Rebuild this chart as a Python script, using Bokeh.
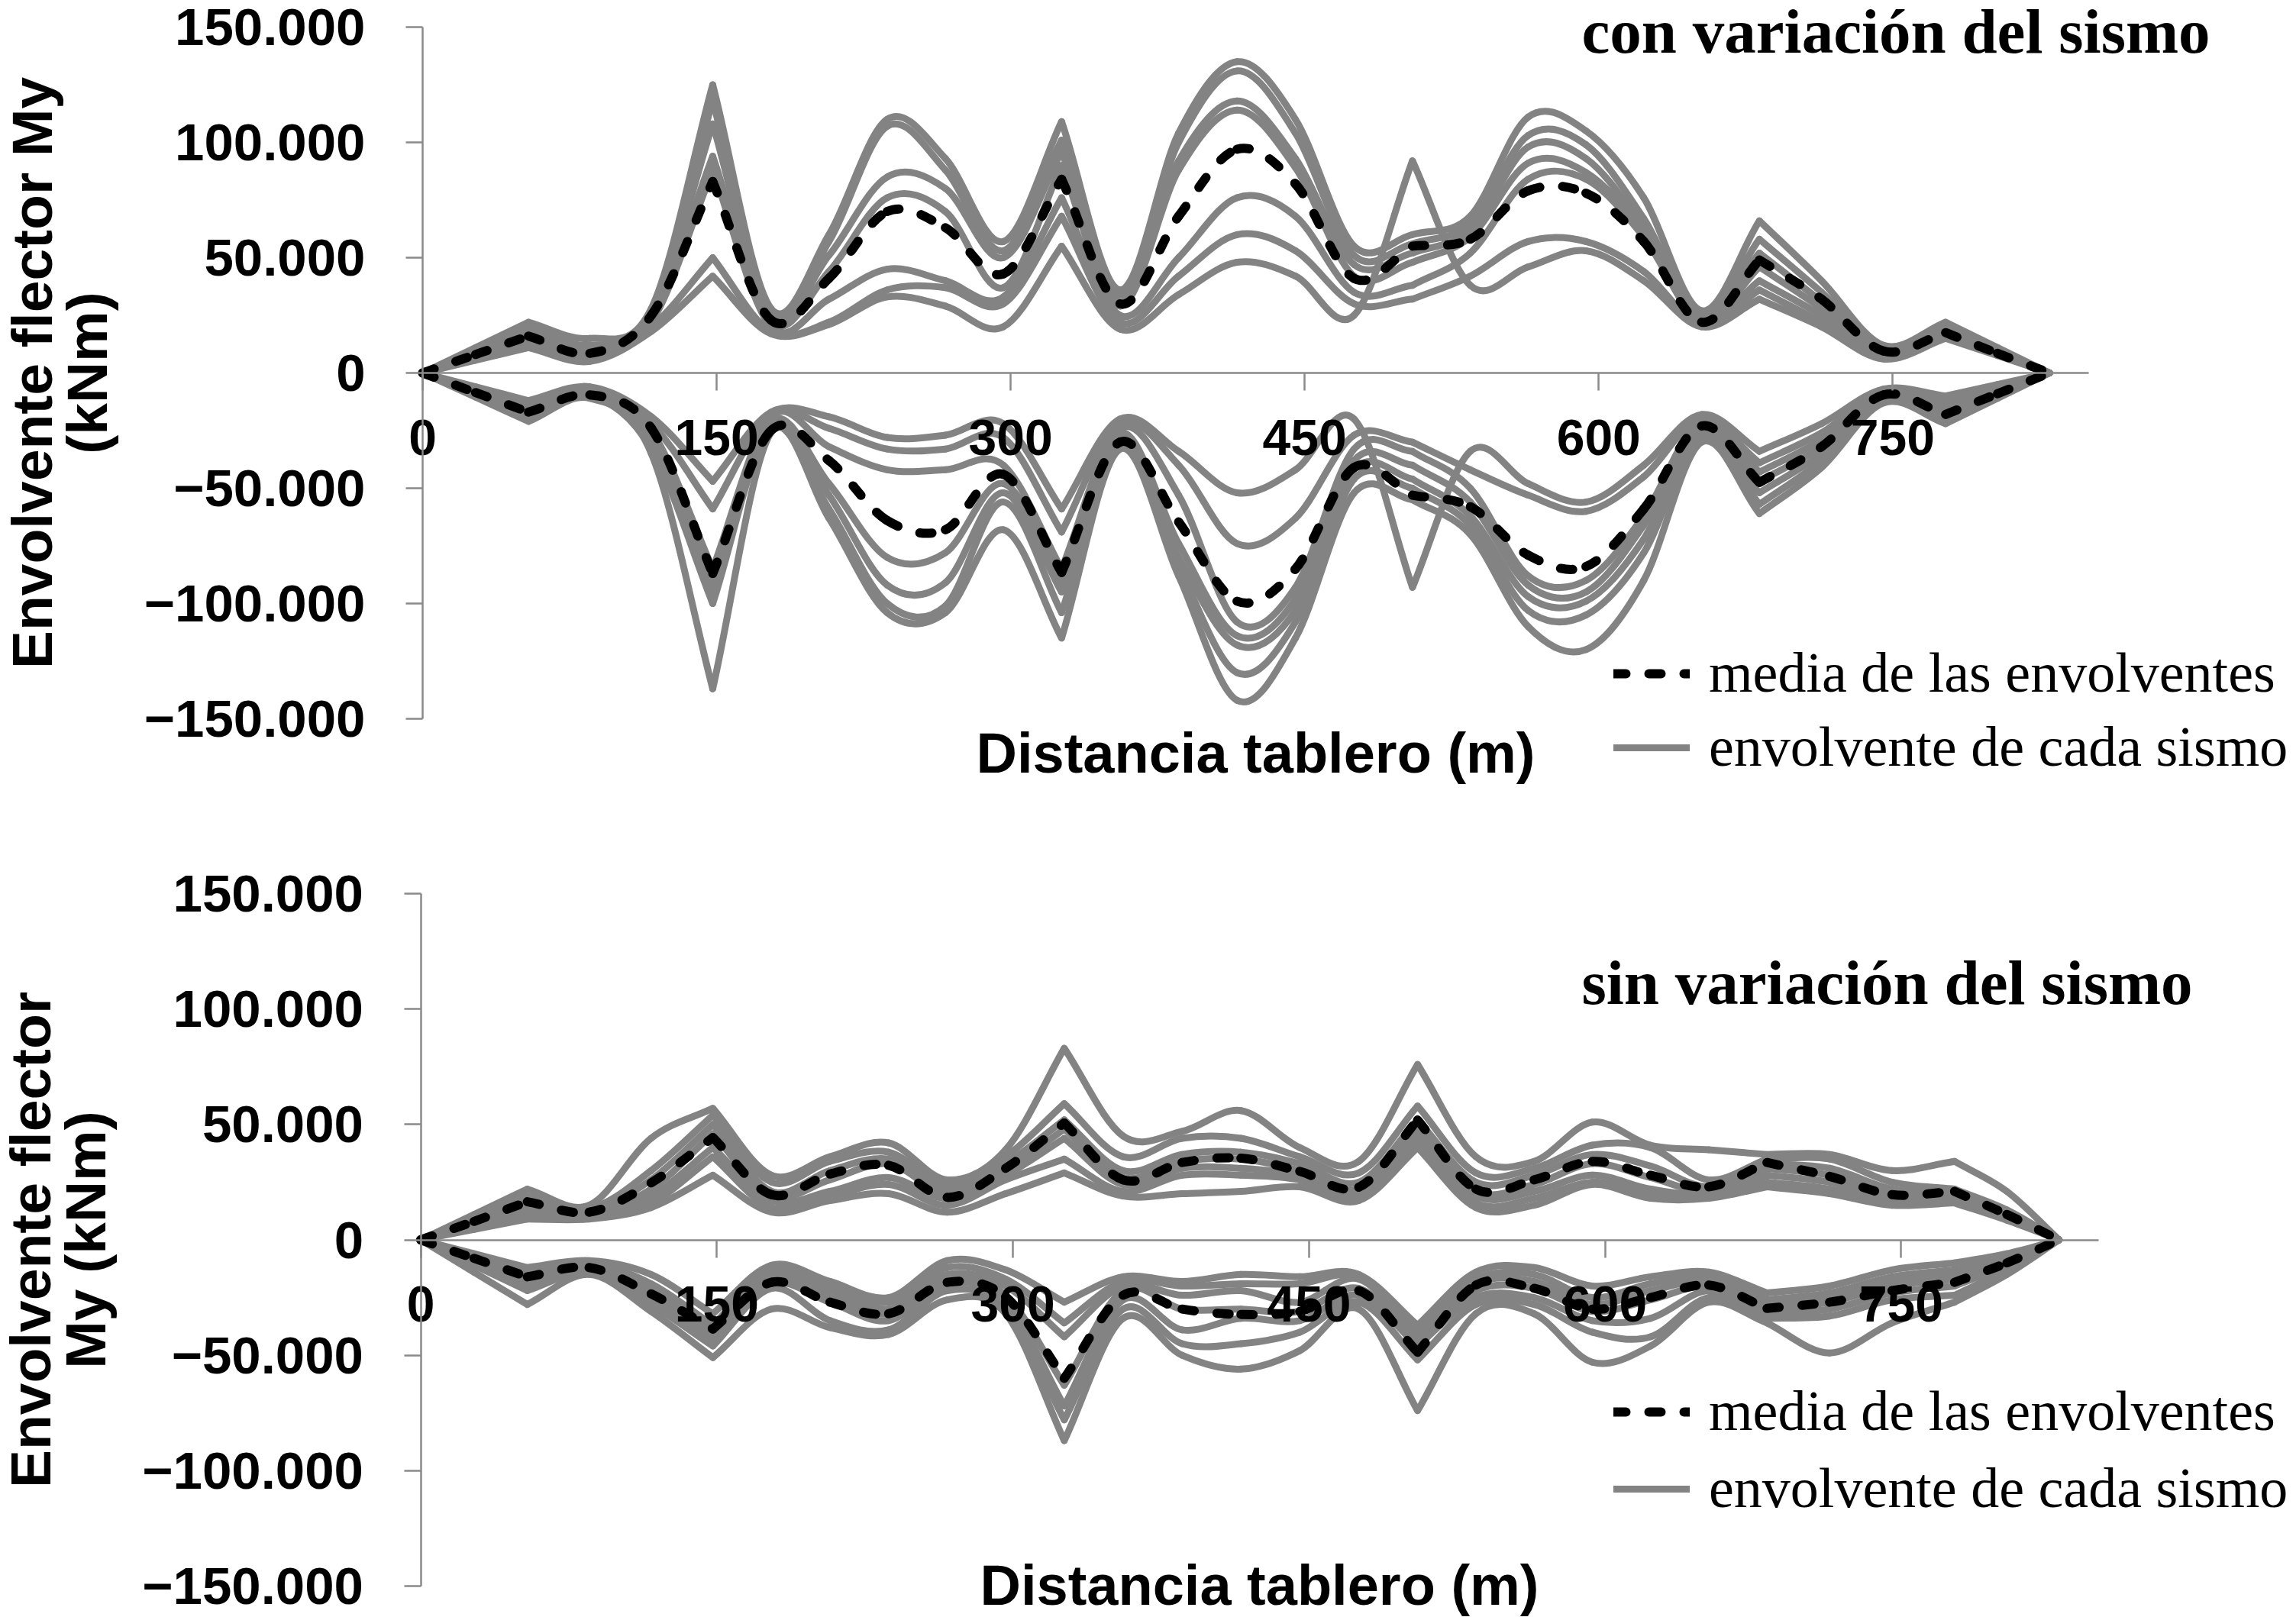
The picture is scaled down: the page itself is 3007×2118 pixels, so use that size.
from bokeh.plotting import figure
from bokeh.models import Range1d, FixedTicker, Label, Legend, LegendItem, ColumnDataSource
from bokeh.layouts import column
from bokeh.embed import file_html
from bokeh.resources import INLINE

# ---------------- data ----------------
# distance along the deck (m) of the read nodes, shared by every series
x_nodes = [0, 27, 54, 85.3, 116.7, 148, 177.7, 207.3, 237, 266.7, 296.3, 326, 355.8,
           385.7, 415.5, 445.3, 475.2, 505, 534.5, 564, 593.5, 623, 652.5, 682,
           713.7, 745.3, 777, 803.5, 830]
# supports (piers) where the envelopes have a corner
pier_x = [0, 54, 148, 326, 505, 682, 777, 830]

x_ticks = [0, 150, 300, 450, 600, 750]
y_ticks = [-150000, -100000, -50000, 0, 50000, 100000, 150000]
y_tick_labels = ["\u2212150.000", "\u2212100.000", "\u221250.000", "0", "50.000", "100.000", "150.000"]

# "con variación del sismo": one row per node, 7 earthquakes per row (kNm)
con_pos_rows = [
    [0, 0, 0, 0, 0, 0, 0],
    [11000, 10000, 9000, 8500, 7500, 6500, 5500],
    [22000, 20000, 18000, 17000, 15000, 13000, 11000],
    [15000, 12000, 10000, 8000, 7000, 6000, 5000],
    [28000, 26000, 25000, 24000, 22000, 20000, 18000],
    [125000, 118000, 108000, 94000, 88000, 50000, 42000],
    [28000, 26000, 24000, 22000, 20000, 18000, 17000],
    [60000, 57000, 51000, 44000, 32000, 22000, 21000],
    [110000, 107000, 85000, 76000, 45000, 36000, 33000],
    [93000, 88000, 80000, 70000, 40000, 37000, 29000],
    [57000, 53000, 50000, 37000, 33000, 30000, 20000],
    [109000, 101000, 96000, 90000, 76000, 68000, 55000],
    [36000, 34000, 31000, 29000, 25000, 22000, 19000],
    [104000, 100000, 92000, 88000, 50000, 42000, 34000],
    [135000, 131000, 118000, 114000, 76000, 60000, 48000],
    [110000, 104000, 93000, 89000, 68000, 53000, 42000],
    [55000, 51000, 47000, 42000, 35000, 30000, 25000],
    [60000, 56000, 52000, 48000, 38000, 32000, 92000],
    [68000, 65000, 62000, 59000, 52000, 42000, 38000],
    [111000, 103000, 98000, 91000, 84000, 57000, 46000],
    [105000, 99000, 93000, 87000, 84000, 57000, 53000],
    [76000, 67000, 63000, 61000, 59000, 44000, 40000],
    [27000, 25000, 24000, 23000, 22000, 21000, 20000],
    [66000, 58000, 52000, 46000, 40000, 36000, 32000],
    [40000, 35000, 31000, 28000, 25000, 22000, 20000],
    [12000, 11000, 10000, 9000, 8000, 7000, 6000],
    [22000, 20000, 19000, 18000, 17000, 16000, 15000],
    [11000, 10000, 9500, 9000, 8500, 8000, 7500],
    [0, 0, 0, 0, 0, 0, 0],
]
con_neg_rows = [
    [0, 0, 0, 0, 0, 0, 0],
    [-6000, -7000, -7500, -8000, -8500, -9500, -10500],
    [-12000, -14000, -15000, -16000, -17000, -19000, -21000],
    [-6000, -7000, -8000, -9000, -9500, -10000, -11000],
    [-19000, -22000, -25000, -28000, -31000, -33000, -35000],
    [-47000, -59000, -85000, -92000, -96000, -100000, -137000],
    [-17000, -18000, -19000, -21000, -22000, -24000, -26000],
    [-19000, -24000, -32000, -48000, -53000, -59000, -63000],
    [-28000, -33000, -42000, -80000, -92000, -100000, -104000],
    [-27000, -33000, -42000, -78000, -91000, -101000, -104000],
    [-22000, -28000, -40000, -48000, -52000, -56000, -68000],
    [-59000, -69000, -85000, -91000, -95000, -104000, -115000],
    [-20000, -22000, -24000, -26000, -28000, -30000, -33000],
    [-34000, -40000, -53000, -74000, -80000, -84000, -88000],
    [-52000, -74000, -108000, -114000, -118000, -130000, -142000],
    [-42000, -63000, -93000, -98000, -103000, -108000, -115000],
    [-20000, -27000, -33000, -38000, -42000, -46000, -52000],
    [-93000, -30000, -34000, -40000, -46000, -50000, -55000],
    [-34000, -42000, -50000, -56000, -62000, -66000, -70000],
    [-48000, -53000, -88000, -92000, -97000, -103000, -110000],
    [-56000, -60000, -90000, -95000, -99000, -105000, -120000],
    [-40000, -45000, -62000, -66000, -72000, -78000, -90000],
    [-18000, -20000, -21000, -23000, -25000, -27000, -30000],
    [-34000, -39000, -43000, -47000, -52000, -57000, -61000],
    [-22000, -26000, -29000, -32000, -35000, -38000, -41000],
    [-7000, -8000, -9000, -10000, -11000, -12000, -13000],
    [-10000, -12000, -14000, -16000, -18000, -20000, -22000],
    [-5000, -6000, -7000, -8000, -9000, -10000, -11000],
    [0, 0, 0, 0, 0, 0, 0],
]
con_mean_pos = [0, 8000, 16000, 8500, 25000, 83000, 23000, 41000, 70000, 63000, 43000,
                84000, 30000, 68000, 97000, 82000, 41000, 55000, 58000, 79000, 78000,
                57000, 22000, 49000, 32000, 9500, 17500, 8500, 0]
con_mean_neg = [0, -8500, -17000, -9500, -24000, -87000, -25000, -38000, -64000, -68000,
                -44000, -86500, -30000, -64600, -99000, -85000, -41000, -53000, -58000,
                -79000, -84000, -59000, -23000, -47500, -32000, -9500, -18000, -9000, 0]

# "sin variación del sismo"
sin_pos_rows = [
    [0, 0, 0, 0, 0, 0, 0],
    [11000, 9500, 8500, 7500, 6500, 5500, 4500],
    [22000, 19000, 17000, 15000, 13000, 11000, 9000],
    [15000, 13500, 12500, 11500, 10500, 10000, 9000],
    [44000, 30000, 26000, 22000, 19000, 16000, 14000],
    [57000, 54000, 50000, 46000, 40000, 36000, 28000],
    [28000, 25000, 21000, 19000, 17000, 14000, 12000],
    [36000, 34000, 30000, 26000, 21000, 19000, 17000],
    [42000, 38000, 35000, 33000, 27000, 24000, 20000],
    [26000, 24000, 22000, 20000, 18000, 15000, 12000],
    [39000, 36000, 33000, 30000, 28000, 26000, 20000],
    [83000, 59000, 52000, 48000, 44000, 35000, 29000],
    [45000, 36000, 30000, 27000, 24000, 21000, 19000],
    [47000, 44000, 37000, 34000, 31000, 28000, 20000],
    [56000, 44000, 38000, 35000, 31000, 28000, 21000],
    [40000, 36000, 33000, 30000, 28000, 26000, 23000],
    [34000, 29000, 25000, 22000, 20000, 18000, 17000],
    [76000, 58000, 52000, 48000, 45000, 43000, 40000],
    [36000, 29000, 25000, 21000, 19000, 16000, 14000],
    [34000, 31000, 28000, 24000, 21000, 18000, 15000],
    [51000, 41000, 37000, 33000, 28000, 25000, 24000],
    [41000, 40000, 32000, 27000, 22000, 20000, 18000],
    [39000, 26000, 23000, 21000, 20000, 19000, 18000],
    [37000, 35000, 33000, 31000, 28000, 25000, 23000],
    [37000, 35000, 31000, 28000, 25000, 22000, 20000],
    [30000, 25000, 22000, 20000, 18000, 16000, 15000],
    [34000, 22000, 20000, 19000, 18000, 17000, 16000],
    [21000, 13000, 12000, 11000, 10000, 9000, 8500],
    [0, 0, 0, 0, 0, 0, 0],
]
sin_neg_rows = [
    [0, 0, 0, 0, 0, 0, 0],
    [-6000, -7000, -8000, -9000, -10000, -11000, -14000],
    [-12000, -14000, -16000, -18000, -20000, -22000, -28000],
    [-9000, -10000, -11000, -12000, -13000, -14000, -15000],
    [-15000, -19000, -21000, -23000, -26000, -28000, -31000],
    [-32000, -37000, -39000, -41000, -43000, -46000, -51000],
    [-11000, -13000, -15000, -17000, -19000, -21000, -30000],
    [-18000, -20000, -22000, -25000, -27000, -35000, -38000],
    [-25000, -27000, -30000, -32000, -35000, -39000, -41000],
    [-9000, -12000, -15000, -17000, -19000, -22000, -26000],
    [-13000, -17000, -20000, -24000, -27000, -30000, -32000],
    [-27000, -36000, -42000, -63000, -72000, -78000, -87000],
    [-16000, -18000, -20000, -22000, -26000, -30000, -34000],
    [-18000, -20000, -24000, -30000, -39000, -45000, -50000],
    [-15000, -19000, -22000, -30000, -34000, -45000, -56000],
    [-16000, -19000, -27000, -31000, -35000, -40000, -48000],
    [-15000, -16000, -17000, -21000, -24000, -27000, -30000],
    [-37000, -40000, -42000, -44000, -46000, -52000, -74000],
    [-14000, -17000, -19000, -22000, -25000, -28000, -32000],
    [-12000, -15000, -18000, -21000, -25000, -28000, -32000],
    [-20000, -25000, -28000, -31000, -35000, -40000, -53000],
    [-16000, -19000, -22000, -26000, -34000, -42000, -46000],
    [-14000, -16000, -18000, -20000, -22000, -25000, -27000],
    [-23000, -26000, -28000, -30000, -32000, -34000, -36000],
    [-20000, -23000, -25000, -27000, -30000, -33000, -49000],
    [-13000, -16000, -18000, -20000, -23000, -26000, -36000],
    [-10000, -13000, -15000, -17000, -20000, -24000, -27000],
    [-6000, -7000, -8000, -9000, -11000, -13000, -15000],
    [0, 0, 0, 0, 0, 0, 0],
]
sin_mean_pos = [0, 8000, 16500, 12000, 24700, 44300, 19600, 28500, 32300, 18400, 31000,
                50600, 26000, 33500, 35400, 29700, 22800, 51900, 22000, 26000, 34000,
                28000, 23000, 33500, 27500, 19600, 21000, 11000, 0]
sin_mean_neg = [0, -8000, -16000, -12000, -23400, -38600, -18400, -27000, -32000, -18400,
                -24700, -60000, -24000, -30000, -32300, -31000, -22000, -48700, -19600,
                -21000, -30000, -25000, -19600, -29700, -27000, -22000, -18400, -10000, 0]

titles = ["con variación del sismo", "sin variación del sismo"]
ylabels = ["Envolvente flector My\n(kNm)", "Envolvente flector\nMy (kNm)"]
xlabel = "Distancia tablero (m)"
legend_labels = ["media de las envolventes", "envolvente de cada sismo"]

GRAY = "#838383"
AXIS_GRAY = "#8a8a8a"
W = 3000


def smooth_segments(xs, ys, corners):
    """Cubic (Catmull-Rom style) Bezier pieces through the read nodes,
    with corners kept at the supports, like a smoothed spreadsheet line."""
    n = len(xs)
    ml = [0.0] * n
    mr = [0.0] * n
    for i in range(n):
        left = (ys[i] - ys[i - 1]) / (xs[i] - xs[i - 1]) if i > 0 else None
        right = (ys[i + 1] - ys[i]) / (xs[i + 1] - xs[i]) if i < n - 1 else None
        if left is None or right is None or xs[i] in corners:
            ml[i] = left if left is not None else right
            mr[i] = right if right is not None else left
        else:
            m = (ys[i + 1] - ys[i - 1]) / (xs[i + 1] - xs[i - 1])
            ml[i] = m
            mr[i] = m
    out = dict(x0=[], y0=[], x1=[], y1=[], cx0=[], cy0=[], cx1=[], cy1=[])
    for i in range(n - 1):
        h = xs[i + 1] - xs[i]
        out["x0"].append(xs[i]); out["y0"].append(ys[i])
        out["x1"].append(xs[i + 1]); out["y1"].append(ys[i + 1])
        out["cx0"].append(xs[i] + h / 3.0); out["cy0"].append(ys[i] + mr[i] * h / 3.0)
        out["cx1"].append(xs[i + 1] - h / 3.0); out["cy1"].append(ys[i + 1] - ml[i + 1] * h / 3.0)
    return out


def merge(parts):
    res = dict(x0=[], y0=[], x1=[], y1=[], cx0=[], cy0=[], cx1=[], cy1=[])
    for p in parts:
        for k in res:
            res[k].extend(p[k])
    return res


def make_panel(pos_rows, neg_rows, mean_pos, mean_neg, title, ylabel, H,
               px_x0, px_x850, px_ytop, px_ybot, title_xy, xlabel_xy, legend_xy, legend_gap):
    # the frame fills the whole canvas; the axes cross at zero like in the spreadsheet chart
    ppm = (px_x850 - px_x0) / 850.0
    ppk = (px_ybot - px_ytop) / 300000.0
    xr = Range1d(-px_x0 / ppm, 850 + (W - px_x850) / ppm)
    yr = Range1d(-150000 - (H - px_ybot) / ppk, 150000 + px_ytop / ppk)
    p = figure(width=W, height=H, output_backend="svg", toolbar_location=None,
               x_range=xr, y_range=yr, min_border=0)
    p.outline_line_color = None
    p.xgrid.visible = False
    p.ygrid.visible = False
    p.background_fill_color = "white"

    gray_parts = []
    for series in zip(*pos_rows):
        gray_parts.append(smooth_segments(x_nodes, list(series), pier_x))
    for series in zip(*neg_rows):
        gray_parts.append(smooth_segments(x_nodes, list(series), pier_x))
    r_gray = p.bezier(x0="x0", y0="y0", x1="x1", y1="y1", cx0="cx0", cy0="cy0",
                      cx1="cx1", cy1="cy1", source=ColumnDataSource(merge(gray_parts)),
                      line_color=GRAY, line_width=9, line_cap="round", line_join="round")
    mean_parts = [smooth_segments(x_nodes, mean_pos, pier_x),
                  smooth_segments(x_nodes, mean_neg, pier_x)]
    r_mean = p.bezier(x0="x0", y0="y0", x1="x1", y1="y1", cx0="cx0", cy0="cy0",
                      cx1="cx1", cy1="cy1", source=ColumnDataSource(merge(mean_parts)),
                      line_color="black", line_width=12, line_cap="round",
                      line_dash="16 30")

    # y axis at x = 0
    ya = p.yaxis[0]
    ya.fixed_location = 0
    ya.bounds = (-150000, 150000)
    ya.ticker = FixedTicker(ticks=y_ticks)
    ya.major_label_overrides = {t: l for t, l in zip(y_ticks, y_tick_labels)}
    ya.minor_tick_line_color = None
    ya.major_tick_in = 0
    ya.major_tick_out = 22
    ya.axis_line_color = AXIS_GRAY
    ya.axis_line_width = 2.5
    ya.major_tick_line_color = AXIS_GRAY
    ya.major_tick_line_width = 2.5
    ya.major_label_text_font = "Liberation Sans"
    ya.major_label_text_font_style = "bold"
    ya.major_label_text_font_size = "69px"
    ya.major_label_text_color = "black"
    ya.major_label_standoff = 53
    ya.axis_label = ylabel
    ya.axis_label_text_font = "Liberation Sans"
    ya.axis_label_text_font_style = "bold"
    ya.axis_label_text_font_size = "75px"
    ya.axis_label_text_color = "black"
    ya.axis_label_standoff = 30
    ya.axis_label_text_line_height = 0.85

    # x axis at y = 0
    xa = p.xaxis[0]
    xa.fixed_location = 0
    xa.bounds = (0, 850)
    xa.ticker = FixedTicker(ticks=x_ticks)
    xa.minor_tick_line_color = None
    xa.major_tick_in = 0
    xa.major_tick_out = 23
    xa.axis_line_color = AXIS_GRAY
    xa.axis_line_width = 2.5
    xa.major_tick_line_color = AXIS_GRAY
    xa.major_tick_line_width = 2.5
    xa.major_label_text_font = "Liberation Sans"
    xa.major_label_text_font_style = "bold"
    xa.major_label_text_font_size = "66px"
    xa.major_label_text_color = "black"
    xa.major_label_standoff = 38

    p.add_layout(Label(x=xlabel_xy[0], y=xlabel_xy[1], x_units="screen", y_units="screen",
                       text=xlabel, text_align="center", text_baseline="alphabetic",
                       text_font="Liberation Sans", text_font_style="bold",
                       text_font_size="74px", text_color="black"))
    p.add_layout(Label(x=title_xy[0], y=title_xy[1], x_units="screen", y_units="screen",
                       text=title, text_align="left", text_baseline="alphabetic",
                       text_font="Liberation Serif", text_font_style="bold",
                       text_font_size="83px", text_color="black"))

    legend = Legend(items=[LegendItem(label=legend_labels[0], renderers=[r_mean]),
                           LegendItem(label=legend_labels[1], renderers=[r_gray])],
                    location=legend_xy, padding=0, margin=0, spacing=legend_gap,
                    glyph_width=100, glyph_height=82, label_height=82, label_standoff=25,
                    label_text_font="Liberation Serif", label_text_font_size="74px",
                    label_text_color="black", border_line_alpha=0,
                    background_fill_alpha=0)
    p.add_layout(legend)
    return p


H1 = 1100
H2 = 1017
top = make_panel(con_pos_rows, con_neg_rows, con_mean_pos, con_mean_neg, titles[0], ylabels[0],
                 H1, px_x0=553, px_x850=2735, px_ytop=35, px_ybot=941,
                 title_xy=(2071, H1 - 40), xlabel_xy=(1644, H1 - 986),
                 legend_xy=(2113, 79), legend_gap=12)
bottom = make_panel(sin_pos_rows, sin_neg_rows, sin_mean_pos, sin_mean_neg, titles[1], ylabels[1],
                    H2, px_x0=550.5, px_x850=2748, px_ytop=70, px_ybot=977,
                    title_xy=(2071, H2 - 186), xlabel_xy=(1649, H2 - 976),
                    legend_xy=(2113, 125), legend_gap=16)

layout = column(top, bottom, spacing=0)
open("out.html", "w").write(file_html(layout, INLINE))
